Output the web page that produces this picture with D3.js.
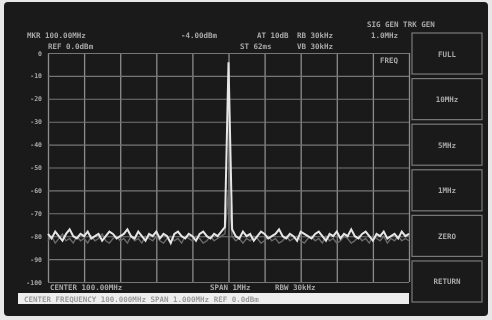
<!DOCTYPE html>
<html>
<head>
<meta charset="utf-8">
<script src="https://cdn.jsdelivr.net/npm/d3@7"></script>
<style>
  body { margin: 0; background: #e8e8e8; }
  svg { display: block; }
  text { font-family: "DejaVu Sans Mono", monospace; font-size: 7.5px; fill: #a8a8a8; font-weight: bold; }
</style>
</head>
<body>
<div id="chart"></div>
<script>
// frequency axis (MHz), 0.01 MHz per point, centre 100 MHz
const freqStart = 99.5, freqStep = 0.01;
const levelTicks = [0, -10, -20, -30, -40, -50, -60, -70, -80, -90, -100];
const freqTicks = [99.5, 99.6, 99.7, 99.8, 99.9, 100.0, 100.1, 100.2, 100.3, 100.4, 100.5];

// current sweep, dBm
const trace = [
  -79, -81, -78, -80, -82, -79, -77, -80, -81, -79,
  -80, -78, -81, -80, -79, -82, -80, -78, -79, -81,
  -80, -79, -77, -80, -81, -78, -80, -82, -79, -80,
  -78, -81, -79, -80, -83, -79, -78, -80, -81, -79,
  -80, -82, -79, -78, -80, -81, -79, -80, -78, -76,
  -4,
  -77, -80, -81, -78, -80, -79, -82, -80, -78, -79,
  -81, -80, -79, -77, -80, -81, -79, -80, -82, -78,
  -79, -80, -81, -79, -78, -80, -82, -79, -80, -78,
  -81, -79, -80, -77, -80, -81, -79, -78, -80, -82,
  -79, -80, -78, -81, -80, -79, -81, -78, -80, -79
];
// previous sweep (dim persistence), dBm
const ghost = [
  -82, -80, -83, -81, -79, -82, -81, -83, -80, -82,
  -81, -83, -80, -82, -81, -79, -82, -83, -81, -80,
  -82, -81, -83, -80, -82, -81, -83, -80, -81, -82,
  -80, -82, -83, -81, -80, -82, -81, -83, -80, -81,
  -82, -80, -81, -83, -82, -80, -82, -81, -80, -79,
  -60,
  -80, -82, -81, -83, -81, -82, -80, -81, -83, -82,
  -80, -82, -81, -83, -82, -80, -82, -81, -80, -82,
  -83, -81, -80, -82, -81, -83, -80, -82, -81, -83,
  -82, -80, -81, -83, -82, -80, -82, -81, -83, -80,
  -81, -82, -80, -83, -81, -82, -80, -82, -81, -82
];

const headerTop = [
  {t: "MKR 100.00MHz", x: 27}, {t: "-4.00dBm", x: 181},
  {t: "AT 10dB", x: 257}, {t: "RB 30kHz", x: 297}
];
const headerBottom = [
  {t: "REF 0.0dBm", x: 48}, {t: "ST 62ms", x: 240}, {t: "VB 30kHz", x: 297}
];
const footer = [
  {t: "CENTER 100.00MHz", x: 50}, {t: "SPAN 1MHz", x: 210}, {t: "RBW 30kHz", x: 275}
];
const softkeys = ["FULL", "10MHz", "5MHz", "1MHz", "ZERO", "RETURN"];
const statusText = "CENTER FREQUENCY 100.000MHz       SPAN 1.000MHz      REF 0.0dBm";

const W = 492, H = 320;
const plot = {left: 48, right: 409, top: 53, bottom: 282};

const svg = d3.select("#chart").append("svg")
    .attr("width", W).attr("height", H);

const defs = svg.append("defs");
defs.append("filter").attr("id", "soft")
  .append("feGaussianBlur").attr("stdDeviation", 0.6);

// screen
svg.append("rect")
    .attr("x", 4).attr("y", 2).attr("width", 484).attr("height", 314)
    .attr("rx", 4).attr("fill", "#1a1a1a");

const g = svg.append("g").attr("filter", "url(#soft)");

const x = d3.scaleLinear()
    .domain([freqStart, freqStart + freqStep * (trace.length - 1)])
    .range([plot.left, plot.right]);
const y = d3.scaleLinear()
    .domain([-100, 0])
    .range([plot.bottom, plot.top]);

// grid
g.append("g")
    .attr("transform", `translate(0,${plot.bottom})`)
    .call(d3.axisBottom(x).tickValues(freqTicks).tickSize(-(plot.bottom - plot.top)).tickFormat(""))
    .call(a => a.select(".domain").remove())
    .call(a => a.selectAll("line").attr("stroke", "#8c8c8c").attr("stroke-width", 1.3));

g.append("g")
    .attr("transform", `translate(${plot.right},0)`)
    .call(d3.axisLeft(y).tickValues(levelTicks).tickSize(plot.right - plot.left).tickFormat(""))
    .call(a => a.select(".domain").remove())
    .call(a => a.selectAll("line").attr("stroke", "#767676").attr("stroke-width", 1.1));

// level labels
g.append("g")
    .attr("transform", `translate(${plot.left - 6},0)`)
    .call(d3.axisLeft(y).tickValues(levelTicks).tickSize(0).tickPadding(0).tickFormat(d => d))
    .call(a => a.select(".domain").remove())
    .call(a => a.selectAll("text").attr("fill", "#8a8a8a").style("font-size", "6.5px"));

// traces
const line = d3.line()
    .x((d, i) => x(freqStart + i * freqStep))
    .y(d => y(d));

g.append("path")
    .datum(ghost)
    .attr("fill", "none")
    .attr("stroke", "#6a6a6a")
    .attr("stroke-width", 1.4)
    .attr("d", line);

g.append("path")
    .datum(trace)
    .attr("fill", "none")
    .attr("stroke", "#e6e6e6")
    .attr("stroke-width", 2)
    .attr("d", line);

// header & footer text
g.selectAll(".hdr1").data(headerTop).join("text")
    .attr("x", d => d.x).attr("y", 38).text(d => d.t);
g.selectAll(".hdr2").data(headerBottom).join("text")
    .attr("x", d => d.x).attr("y", 49).text(d => d.t);
g.selectAll(".ftr").data(footer).join("text")
    .attr("x", d => d.x).attr("y", 290).text(d => d.t);

g.append("text").attr("x", 367).attr("y", 27).text("SIG GEN  TRK GEN");
g.append("text").attr("x", 371).attr("y", 38).text("1.0MHz");
g.append("text").attr("x", 380).attr("y", 63).text("FREQ");

// status bar
g.append("rect")
    .attr("x", 18).attr("y", 293).attr("width", 391).attr("height", 11)
    .attr("fill", "#eeeeee");
g.append("text").attr("x", 24).attr("y", 301.5)
    .style("fill", "#9a9a9a").text(statusText);

// softkeys
const keyY = d3.scaleBand().domain(softkeys).range([33, 302]).paddingInner(0.1);
const keys = g.selectAll(".key").data(softkeys).join("g")
    .attr("transform", d => `translate(412,${keyY(d)})`);
keys.append("rect")
    .attr("width", 70).attr("height", keyY.bandwidth())
    .attr("fill", "none").attr("stroke", "#7a7a7a").attr("stroke-width", 1.2);
keys.append("text")
    .attr("x", 35).attr("y", keyY.bandwidth() / 2 + 3)
    .attr("text-anchor", "middle").text(d => d);
</script>
</body>
</html>
